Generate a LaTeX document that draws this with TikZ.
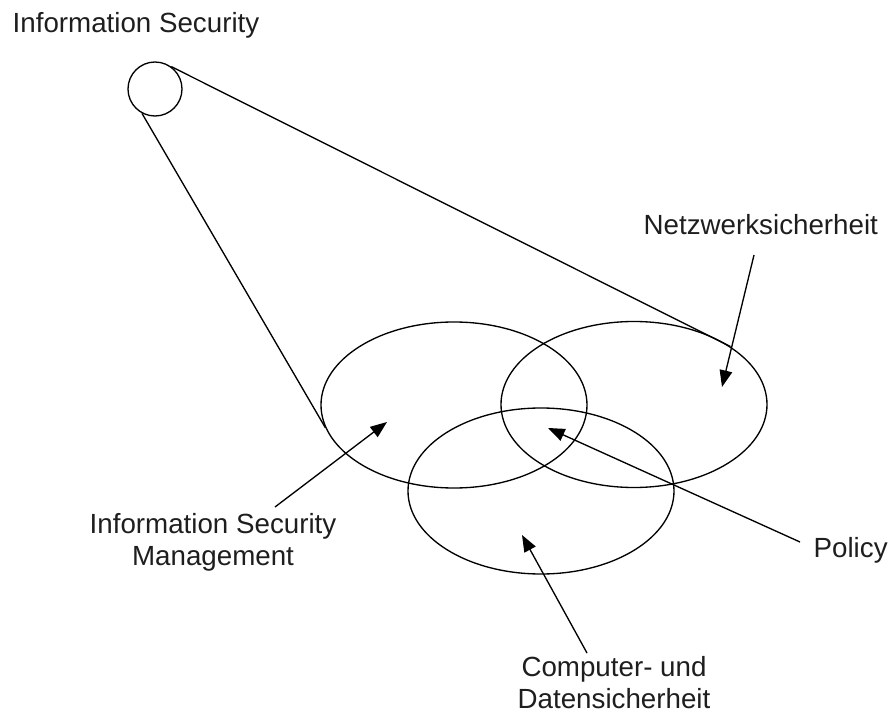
\documentclass[tikz,border=0pt]{standalone}
\usepackage{fontspec}
\setmainfont{Liberation Sans}
\usetikzlibrary{arrows.meta,shapes.geometric}

\tikzset{every picture/.style={line width=1pt}}
\tikzset{
  menge/.style={draw, ellipse, inner sep=0pt, minimum width=199.5pt, minimum height=124.5pt},
  pfeil/.style={-{Triangle[length=12.5pt,width=9.5pt]}},
  beschriftung/.style={inner sep=0pt, font=\fontsize{20.8}{23.3}\selectfont, align=center, color={rgb, 255:red, 30; green, 30; blue, 30 }},
}

\begin{document}
\begin{tikzpicture}[x=0.75pt,y=0.75pt,yscale=-1,xscale=1]
\useasboundingbox (0,0) rectangle (890,713);

%Shape: Circle [id:infosec]
\node [draw, circle, inner sep=0pt, minimum size=40.5pt] (infosec) at (155,89) {};
%Shape: Ellipse [id:ism]
\node [menge] (ism) at (454,405) {};
%Shape: Ellipse [id:netz]
\node [menge] (netz) at (634,404.5) {};
%Shape: Ellipse [id:daten]
\node [menge] (daten) at (541,491) {};

%Straight Lines (zoom cone)
\draw (infosec.54) -- (netz.31);
\draw (infosec.242) -- (ism.190);

% Text Node
\node [beschriftung, anchor=base west] (lblinfosec) at (12,33) {Information Security};
% Text Node
\node [beschriftung, anchor=base west] (lblnetz) at (643,235) {Netzwerksicherheit};
% Text Node (base = last line)
\node [beschriftung, anchor=base] (lblism) at (213,565) {Information Security\\Management};
% Text Node
\node [beschriftung, anchor=base west] (lblpolicy) at (813,557) {Policy};
% Text Node (base = last line)
\node [beschriftung, anchor=base] (lbldaten) at (614,708) {Computer- und\\Datensicherheit};

%Arrows
\coordinate (netzfuss) at (754,255);
\coordinate (netzspitze) at (722,387);
\coordinate (ismfuss) at (275,507);
\coordinate (ismspitze) at (387,422);
\coordinate (policyfuss) at (800,542);
\coordinate (policyspitze) at (548,428);
\coordinate (datenfuss) at (587,653);
\coordinate (datenspitze) at (522,535);
\draw [pfeil] (netzfuss) -- (netzspitze);
\draw [pfeil] (ismfuss) -- (ismspitze);
\draw [pfeil] (policyfuss) -- (policyspitze);
\draw [pfeil] (datenfuss) -- (datenspitze);

\end{tikzpicture}
\end{document}
